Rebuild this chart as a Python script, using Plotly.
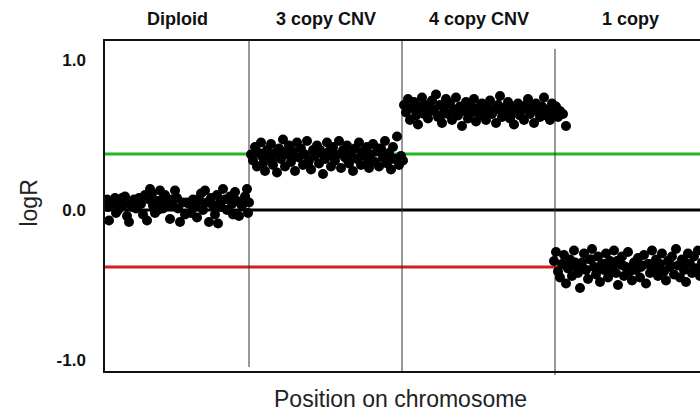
import plotly.graph_objects as go

# Segment boundaries along the chromosome and their copy-number labels
seg_edges = [0, 144, 297, 450, 600]
seg_labels = ["Diploid", "3 copy CNV", "4 copy CNV", "1 copy"]
# Vertical extent (paper units) of each divider line
divider_spans = [(0.012, 1.0), (0.0, 1.0), (-0.012, 0.976)]

# Reference levels (logR)
level_gain = 0.373
level_neutral = 0.0
level_loss = -0.38

# Probe positions and logR values, per segment
diploid_x = [2, 3, 4, 8, 10, 13, 15, 18, 20, 22, 24, 26, 29, 31, 34, 36, 38, 40, 42, 44,
             45, 47, 48, 50, 52, 55, 57, 58, 60, 63, 65, 67, 70, 72, 73, 75, 78, 80, 84, 88,
             90, 92, 95, 96, 98, 100, 102, 104, 106, 108, 110, 112, 113, 115, 118, 120, 122,
             125, 127, 130, 132, 134, 137, 140, 142, 143, 144, 6, 11, 17, 27, 33, 53, 62, 68,
             82, 86, 93, 116, 128, 136]
diploid_y = [0.07, 0.02, -0.07, 0.05, 0.08, 0.0, 0.06, 0.03, 0.09, -0.04, -0.08, 0.05, 0.07,
             0.01, 0.08, 0.04, -0.03, 0.10, -0.07, 0.07, 0.14, 0.11, 0.03, -0.02, 0.06, 0.13,
             0.07, 0.01, 0.10, 0.04, -0.06, 0.07, 0.13, 0.08, 0.01, -0.08, 0.05, -0.03, 0.04,
             0.07, 0.02, -0.05, 0.06, 0.11, 0.0, 0.13, 0.05, -0.08, 0.08, 0.03, -0.03, 0.10,
             -0.09, 0.05, 0.14, 0.07, 0.0, 0.09, 0.04, 0.12, 0.06, -0.04, 0.03, 0.09, 0.14,
             -0.02, 0.05, 0.04, -0.02, 0.08, 0.02, 0.05, 0.0, 0.06, 0.03, 0.05, -0.02, 0.07,
             0.02, -0.03, 0.04]

cnv3_x = [146, 148, 150, 152, 154, 156, 158, 160, 162, 164, 166, 168, 170, 172, 174, 176, 178,
          180, 182, 184, 186, 188, 190, 192, 194, 196, 198, 200, 202, 204, 206, 208, 210, 212,
          214, 216, 218, 220, 222, 224, 226, 228, 230, 232, 234, 236, 238, 240, 242, 244, 246,
          248, 250, 252, 254, 256, 258, 260, 262, 264, 266, 268, 270, 272, 274, 276, 278, 280,
          282, 284, 286, 288, 290, 292, 294, 296, 298, 157, 167, 177, 187, 203, 215, 227, 243,
          257, 263, 273, 283, 289]
cnv3_y = [0.37, 0.33, 0.42, 0.29, 0.38, 0.45, 0.31, 0.26, 0.40, 0.35, 0.44, 0.30, 0.38, 0.25,
          0.41, 0.34, 0.47, 0.29, 0.37, 0.43, 0.32, 0.39, 0.26, 0.45, 0.35, 0.41, 0.30, 0.37,
          0.46, 0.33, 0.27, 0.40, 0.36, 0.43, 0.31, 0.38, 0.24, 0.34, 0.45, 0.39, 0.29, 0.42,
          0.33, 0.37, 0.46, 0.28, 0.40, 0.35, 0.43, 0.31, 0.38, 0.26, 0.41, 0.34, 0.45, 0.30,
          0.39, 0.36, 0.42, 0.28, 0.37, 0.44, 0.32, 0.39, 0.29, 0.41, 0.35, 0.46, 0.31, 0.38,
          0.27, 0.42, 0.34, 0.49, 0.30, 0.36, 0.33, 0.36, 0.33, 0.39, 0.35, 0.31, 0.40, 0.36,
          0.33, 0.38, 0.32, 0.41, 0.37, 0.34]

cnv4_x = [299, 301, 303, 305, 307, 309, 311, 313, 315, 317, 319, 321, 323, 325, 327, 329, 331,
          333, 335, 337, 339, 341, 343, 345, 347, 349, 351, 353, 355, 357, 359, 361, 363, 365,
          367, 369, 371, 373, 375, 377, 379, 381, 383, 385, 387, 389, 391, 393, 395, 397, 399,
          401, 403, 405, 407, 409, 411, 413, 415, 417, 419, 421, 423, 425, 427, 429, 431, 433,
          435, 437, 439, 441, 443, 445, 447, 449, 451, 453, 455, 458, 461, 312, 326, 338, 352,
          364, 378, 392, 406, 420, 434, 446]
cnv4_y = [0.70, 0.65, 0.74, 0.60, 0.68, 0.72, 0.63, 0.57, 0.69, 0.75, 0.64, 0.70, 0.61, 0.67,
          0.73, 0.66, 0.77, 0.62, 0.70, 0.58, 0.68, 0.74, 0.64, 0.71, 0.60, 0.67, 0.75, 0.63,
          0.69, 0.56, 0.66, 0.72, 0.61, 0.70, 0.65, 0.74, 0.59, 0.68, 0.63, 0.71, 0.66, 0.60,
          0.69, 0.73, 0.64, 0.67, 0.58, 0.70, 0.76, 0.62, 0.68, 0.65, 0.72, 0.61, 0.69, 0.57,
          0.66, 0.71, 0.63, 0.67, 0.60, 0.70, 0.74, 0.64, 0.68, 0.58, 0.71, 0.66, 0.62, 0.69,
          0.75, 0.63, 0.67, 0.60, 0.71, 0.65, 0.69, 0.62, 0.66, 0.64, 0.56, 0.66, 0.68, 0.64,
          0.66, 0.70, 0.65, 0.67, 0.63, 0.68, 0.65, 0.66]

cnv1_x = [449, 451, 453, 455, 457, 459, 461, 463, 465, 467, 469, 471, 473, 475, 477, 479, 481,
          483, 485, 487, 489, 491, 493, 495, 497, 499, 501, 503, 505, 507, 509, 511, 513, 515,
          517, 519, 521, 523, 525, 527, 529, 531, 533, 535, 537, 539, 541, 543, 545, 547, 549,
          551, 553, 555, 557, 559, 561, 563, 565, 567, 569, 571, 573, 575, 577, 579, 581, 583,
          585, 587, 589, 591, 593, 595, 597, 462, 470, 478, 486, 494, 500, 506, 512, 518, 524,
          530, 536, 544, 552, 566, 580, 592]
cnv1_y = [-0.34, -0.28, -0.41, -0.45, -0.36, -0.30, -0.49, -0.39, -0.33, -0.44, -0.27, -0.38,
          -0.42, -0.52, -0.35, -0.29, -0.40, -0.46, -0.33, -0.26, -0.38, -0.43, -0.31, -0.48,
          -0.36, -0.40, -0.29, -0.45, -0.34, -0.39, -0.27, -0.42, -0.50, -0.36, -0.31, -0.44,
          -0.38, -0.28, -0.41, -0.47, -0.35, -0.40, -0.32, -0.45, -0.37, -0.30, -0.49, -0.36,
          -0.42, -0.27, -0.39, -0.33, -0.44, -0.36, -0.29, -0.41, -0.47, -0.34, -0.38, -0.31,
          -0.43, -0.26, -0.37, -0.45, -0.33, -0.40, -0.48, -0.29, -0.36, -0.42, -0.31, -0.39,
          -0.27, -0.44, -0.35, -0.37, -0.35, -0.39, -0.33, -0.38, -0.36, -0.40, -0.34, -0.37,
          -0.39, -0.35, -0.38, -0.36, -0.40, -0.37, -0.35, -0.39]

FONT = "Liberation Sans, Arial, sans-serif"

fig = go.Figure()

for xs, ys in [(diploid_x, diploid_y), (cnv3_x, cnv3_y), (cnv4_x, cnv4_y), (cnv1_x, cnv1_y)]:
    fig.add_trace(go.Scatter(
        x=xs, y=ys, mode="markers",
        marker=dict(size=10, color="black", line=dict(width=0)),
        showlegend=False, hoverinfo="skip",
    ))

# Horizontal reference levels
for lvl, col in [(level_gain, "#22b522"), (level_neutral, "#000000"), (level_loss, "#d41f1f")]:
    fig.add_shape(type="line", xref="paper", x0=0, x1=1, yref="y", y0=lvl, y1=lvl,
                  line=dict(color=col, width=3), layer="below")

# Segment dividers
for edge, (lo, hi) in zip(seg_edges[1:-1], divider_spans):
    fig.add_shape(type="line", xref="x", x0=edge, x1=edge, yref="paper", y0=lo, y1=hi,
                  line=dict(color="#333333", width=1), layer="below")

# Segment labels above the frame
for i, lab in enumerate(seg_labels):
    mid = (seg_edges[i] + seg_edges[i + 1]) / 2
    fig.add_annotation(x=mid, xref="x", y=1.068, yref="paper", text=lab, showarrow=False,
                       yanchor="middle",
                       font=dict(family=FONT, size=18, color="#111111", weight="bold"))

fig.add_annotation(text="logR", xref="paper", x=-0.128, xanchor="center", yref="paper",
                   y=0.51, yanchor="middle", textangle=-90, showarrow=False,
                   font=dict(family=FONT, size=23, color="#222222"))
fig.add_annotation(text="Position on chromosome", xref="paper", x=0.496, xanchor="center",
                   yref="paper", y=-0.085, yanchor="middle", showarrow=False,
                   font=dict(family=FONT, size=23, color="#222222"))

fig.update_layout(
    width=700, height=414,
    margin=dict(l=105, r=0, t=41, b=43),
    paper_bgcolor="white", plot_bgcolor="white",
    xaxis=dict(range=[0, 595], showgrid=False, zeroline=False, showticklabels=False,
               ticks="", showline=True, mirror=True, linecolor="#111111", linewidth=1.5),
    yaxis=dict(range=[-1.0733, 1.1267], showgrid=False, zeroline=False,
               tickvals=[1.0, 0.0, -1.0], ticktext=["1.0", "0.0", "-1.0"], ticks="",
               ticklabelstandoff=14,
               tickfont=dict(family=FONT, size=17, color="#111111", weight="bold"),
               showline=True, linecolor="#111111", linewidth=1.5),
)

fig.write_html("out.html")
